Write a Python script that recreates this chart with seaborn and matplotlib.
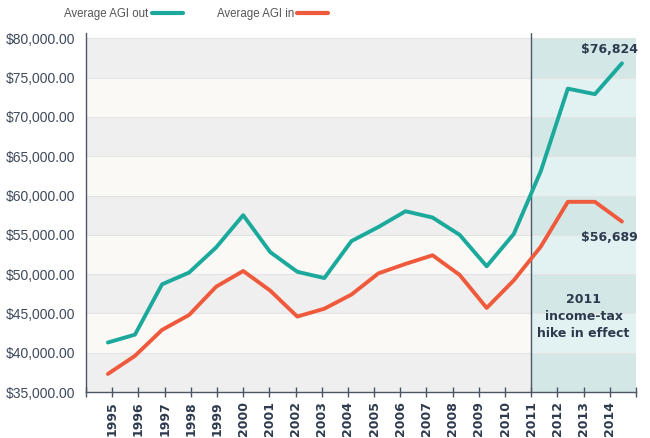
import matplotlib
matplotlib.use("Agg")
import matplotlib.pyplot as plt
from matplotlib.ticker import FuncFormatter
from matplotlib.lines import Line2D
import pandas as pd
import seaborn as sns

years = list(range(1995, 2015))
agi_out = [41300, 42300, 48700, 50200, 53400, 57500, 52800, 50300, 49500, 54200,
           56000, 58000, 57200, 55000, 51000, 55100, 63100, 73600, 72900, 76824]
agi_in = [37300, 39600, 42900, 44800, 48400, 50400, 47900, 44600, 45600, 47400,
          50100, 51300, 52400, 49900, 45700, 49200, 53500, 59200, 59200, 56689]
series_names = ["Average AGI out", "Average AGI in"]
y_ticks = list(range(35000, 80001, 5000))
hike_year = 2011
end_labels = ["$76,824", "$56,689"]
hike_text = "2011\nincome-tax\nhike in effect"

teal = "#1aa99b"
orange = "#ef5a3c"
navy = "#2d3a4d"

sns.set_style("white")
plt.rcParams["font.family"] = ["DejaVu Sans"]

df = pd.DataFrame({
    "year": years * 2,
    "agi": agi_out + agi_in,
    "series": [series_names[0]] * len(years) + [series_names[1]] * len(years),
})

fig = plt.figure(figsize=(6.5, 4.38), dpi=100)
ax = fig.add_axes([0.1323, 0.105, 0.8462, 0.82])
ax.set_xlim(1994, 2015)
ax.set_ylim(35000, 80700)

# striped background, tinted after the tax hike
split = (hike_year - 1994) / 21
for i, lo in enumerate(y_ticks[:-1]):
    dark = (len(y_ticks) - 2 - i) % 2 == 0
    ax.axhspan(lo, lo + 5000, xmin=0, xmax=split,
               color="#efefef" if dark else "#faf9f6", lw=0, zorder=0)
    ax.axhspan(lo, lo + 5000, xmin=split, xmax=1,
               color="#d3e7e7" if dark else "#e2f1f1", lw=0, zorder=0)
for t in y_ticks:
    ax.axhline(t, color="#e4e4e4", lw=0.8, zorder=0.5)
ax.axvline(hike_year, color="#4a5868", lw=1, zorder=1)

ax.set_xticks(range(1994, 2016))
ax.set_xticklabels([str(y) if 1995 <= y <= 2014 else "" for y in range(1994, 2016)],
                   rotation=90, fontweight="bold", fontsize=9, color=navy)
ax.set_yticks(y_ticks)
ax.yaxis.set_major_formatter(FuncFormatter(lambda v, p: "${:,.2f}".format(v)))
ax.tick_params(axis="y", length=0, pad=8, labelsize=10, labelcolor="#3d4a5c")
for lab in ax.get_yticklabels():
    lab.set_family("Liberation Sans")
ax.tick_params(axis="x", direction="inout", length=7, width=1, color="#4a5566", pad=3)
for s in ["top", "right"]:
    ax.spines[s].set_visible(False)
for s in ["left", "bottom"]:
    ax.spines[s].set_color("#4a5566")
    ax.spines[s].set_linewidth(1)

# the data lines sit on a slightly different horizontal scale than the ticks
ax_line = ax.twiny()
ax_line.set_xlim(1994.19, 2014.52)
sns.lineplot(data=df, x="year", y="agi", hue="series",
             palette={series_names[0]: teal, series_names[1]: orange},
             linewidth=2.8, legend=False, ax=ax_line)
ax_line.set_ylim(35000, 80700)
ax_line.axis("off")

ax_line.text(2014.6, agi_out[-1] + 1700, end_labels[0], ha="right", va="center",
             fontsize=9, fontweight="bold", color=navy)
ax_line.text(2014.6, agi_in[-1] - 2000, end_labels[1], ha="right", va="center",
             fontsize=9, fontweight="bold", color=navy)
ax.text(2013, 44600, hike_text, ha="center", va="center", fontsize=9,
        fontweight="bold", color=navy, linespacing=1.38)

handles = [Line2D([], [], color=teal, lw=3), Line2D([], [], color=orange, lw=3)]
fig.legend(handles, series_names, loc="center", bbox_to_anchor=(0.302, 0.968),
           ncol=2, frameon=False, markerfirst=False,
           prop={"family": "Liberation Sans", "size": 8.3},
           handlelength=2.7, handletextpad=0.3, columnspacing=2.9,
           labelcolor="#555555")

fig.savefig("out.png", dpi=100)
